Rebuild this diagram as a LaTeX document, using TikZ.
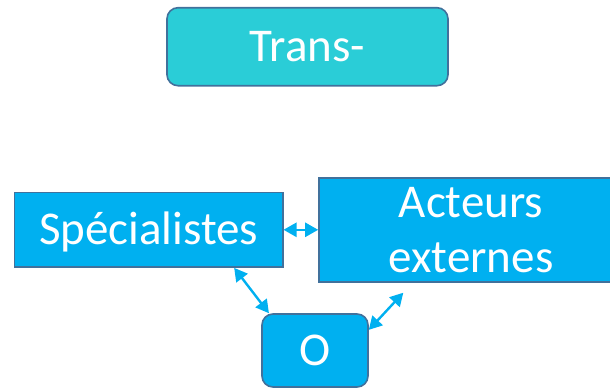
\documentclass[tikz,border=0pt]{standalone}
\usepackage{fontspec}
\setmainfont{Carlito}
\usetikzlibrary{arrows.meta}

\definecolor{boxblue}{RGB}{0,176,240}
\definecolor{boxteal}{RGB}{42,205,215}
\definecolor{edgeblue}{RGB}{65,113,156}

\begin{document}
\begin{tikzpicture}[x=1bp,y=-1bp,
		box/.style={draw=edgeblue,line width=1.6bp,fill=boxblue,text=white,inner sep=0pt,
			font=\fontsize{47bp}{55bp}\selectfont},
		oneline/.style={text height=42bp,text depth=12bp},
		link/.style={draw=boxblue,line width=2.4bp,{Triangle[length=13bp,width=14bp]}-{Triangle[length=13bp,width=14bp]}}]
			\useasboundingbox (0,0) rectangle (610,388);
			\clip (0,0) rectangle (610,388);

			\node[box,oneline,fill=boxteal,rounded corners=11bp,minimum width=281bp,minimum height=78bp] (trans) at (307.5,46.7) {Trans-};
			\node[box,oneline,minimum width=268bp,minimum height=74.5bp] (spec) at (148.7,229.8) {Sp\'ecialistes};
			\node[box,align=center,minimum width=304bp,minimum height=104bp] (acteurs) at (471,230) {Acteurs\\externes};
			\node[box,oneline,rounded corners=11bp,minimum width=106bp,minimum height=73bp] (o) at (315,350.5) {O};
			\coordinate (acttip) at (403.3,292.7);

			\draw[link] (spec.east) -- (spec.east -| acteurs.west);
			\draw[link] (spec.-24.6) -- (o.141);
			\draw[link] (o.21.5) -- (acttip);
		\end{tikzpicture}
\end{document}
